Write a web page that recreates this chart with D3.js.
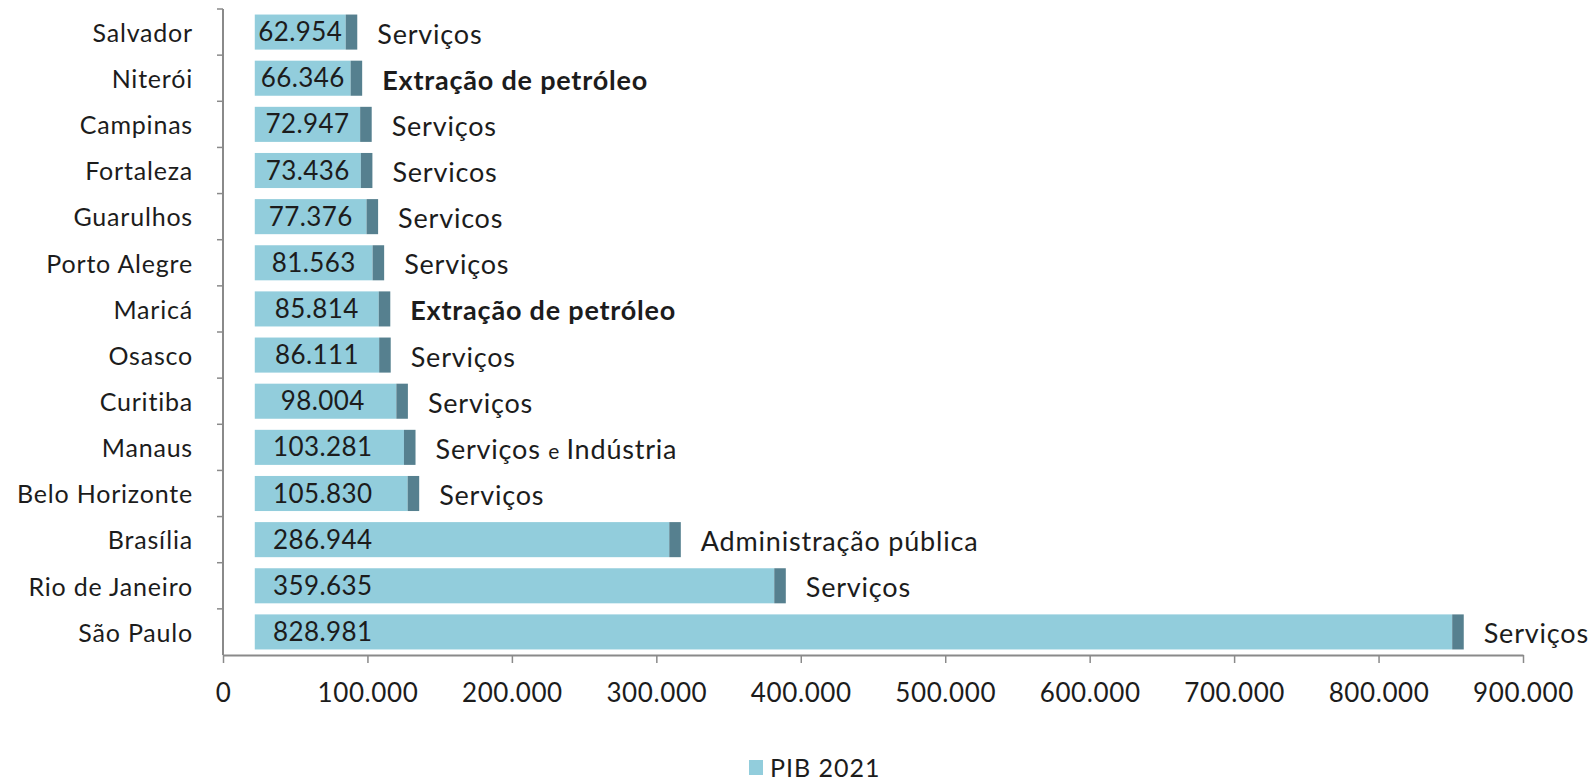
<!DOCTYPE html>
<html>
<head>
<meta charset="utf-8">
<script src="https://cdn.jsdelivr.net/npm/d3@7"></script>
<style>
  html, body { margin: 0; padding: 0; background: #ffffff; }
  svg { display: block; }
</style>
</head>
<body>
<svg id="chart" width="1593" height="783"></svg>
<script>
// ---- data ----
const cities = ["Salvador", "Niterói", "Campinas", "Fortaleza", "Guarulhos", "Porto Alegre", "Maricá",
  "Osasco", "Curitiba", "Manaus", "Belo Horizonte", "Brasília", "Rio de Janeiro", "São Paulo"];
const pib2021 = [62954, 66346, 72947, 73436, 77376, 81563, 85814, 86111, 98004, 103281, 105830, 286944, 359635, 828981];
const sectors = ["Serviços", "Extração de petróleo", "Serviços", "Servicos", "Servicos", "Serviços", "Extração de petróleo",
  "Serviços", "Serviços", "Serviços e Indústria", "Serviços", "Administração pública", "Serviços", "Serviços"];
// invisible base segment and dark end-cap segment of the stacked bars
const baseSeries = [22000, 22000, 22000, 22000, 22000, 22000, 22000, 22000, 22000, 22000, 22000, 22000, 22000, 22000];
const capSeries = [8000, 8000, 8000, 8000, 8000, 8000, 8000, 8000, 8000, 8000, 8000, 8000, 8000, 8000];
const xTicks = [0, 100000, 200000, 300000, 400000, 500000, 600000, 700000, 800000, 900000];
const legendLabel = "PIB 2021";

// ---- setup ----
const svg = d3.select("#chart");
const FONT = "Lato, 'Open Sans', sans-serif";
const lightBlue = "#92cddc";
const darkCap = "#56808f";
const axisGray = "#8a8a8a";
const textCol = "#1c1c1c";

const locale = d3.formatLocale({ decimal: ",", thousands: ".", grouping: [3], currency: ["R$", ""] });
const fmt = locale.format(",d");

const rows = cities.map((c, i) => ({
  city: c, value: pib2021[i], sector: sectors[i], base: baseSeries[i], cap: capSeries[i]
}));

const x = d3.scaleLinear().domain([0, 900000]).range([223, 1523]);
const y = d3.scaleBand().domain(cities).range([9, 655]).paddingInner(0.24).paddingOuter(0.12);

// ---- axes ----
const xAxis = d3.axisBottom(x).tickValues(xTicks).tickFormat(d => fmt(d)).tickSizeInner(8).tickSizeOuter(0).tickPadding(21);
const gx = svg.append("g").attr("transform", "translate(0,655)").call(xAxis);
gx.select(".domain").attr("stroke", axisGray).attr("stroke-width", 2);
gx.selectAll(".tick line").attr("stroke", axisGray).attr("stroke-width", 1.5);
gx.selectAll(".tick text").attr("font-family", FONT).attr("font-size", 26)
  .attr("letter-spacing", 0.6).attr("fill", textCol);

// y axis: line with ticks at band boundaries
const gy = svg.append("g");
gy.append("line").attr("x1", x(0)).attr("x2", x(0)).attr("y1", y.range()[0]).attr("y2", y.range()[1])
  .attr("stroke", axisGray).attr("stroke-width", 2);
const boundaries = cities.map(c => y(c) - y.step() * y.paddingInner() / 2);
gy.selectAll("line.yt").data(boundaries).join("line").attr("class", "yt")
  .attr("x1", x(0) - 6).attr("x2", x(0)).attr("y1", d => d).attr("y2", d => d)
  .attr("stroke", axisGray).attr("stroke-width", 1.5);
gy.selectAll("text.cat").data(rows).join("text").attr("class", "cat")
  .attr("x", x(0) - 30).attr("y", d => y(d.city) + y.bandwidth() / 2 + 1)
  .attr("dy", "0.35em").attr("text-anchor", "end")
  .attr("font-family", FONT).attr("font-size", 25).attr("letter-spacing", 0.8).attr("fill", textCol)
  .text(d => d.city);

// ---- bars ----
const bars = svg.append("g");
bars.selectAll("rect.val").data(rows).join("rect").attr("class", "val")
  .attr("x", d => x(d.base))
  .attr("y", d => y(d.city))
  .attr("width", d => x(d.base + d.value) - x(d.base))
  .attr("height", y.bandwidth())
  .attr("fill", lightBlue);
bars.selectAll("rect.cap").data(rows).join("rect").attr("class", "cap")
  .attr("x", d => x(d.base + d.value))
  .attr("y", d => y(d.city))
  .attr("width", d => x(d.base + d.value + d.cap) - x(d.base + d.value))
  .attr("height", y.bandwidth())
  .attr("fill", darkCap);

// value labels inside bars
bars.selectAll("text.vlab").data(rows).join("text").attr("class", "vlab")
  .attr("x", d => x(d.base) + Math.min((x(d.base + d.value) - x(d.base)) / 2, 68))
  .attr("y", d => y(d.city) + y.bandwidth() / 2)
  .attr("dy", "0.35em").attr("text-anchor", "middle")
  .attr("font-family", FONT).attr("font-size", 26).attr("letter-spacing", 0.4).attr("fill", textCol)
  .text(d => fmt(d.value));

// sector annotations
const ann = bars.selectAll("text.ann").data(rows).join("text").attr("class", "ann")
  .attr("x", d => x(d.base + d.value + d.cap) + 20)
  .attr("y", d => y(d.city) + y.bandwidth() / 2 + 2)
  .attr("dy", "0.35em")
  .attr("font-family", FONT).attr("font-size", 27).attr("letter-spacing", 0.8).attr("fill", textCol)
  .attr("font-weight", d => d.sector.startsWith("Extração") ? "bold" : "normal");
ann.each(function(d) {
  const t = d3.select(this);
  const parts = d.sector.split(" e ");
  if (parts.length === 2 && d.sector.includes("Indústria")) {
    t.append("tspan").text(parts[0] + " ");
    t.append("tspan").attr("font-size", 21).text("e ");
    t.append("tspan").text(parts[1]);
  } else {
    t.text(d.sector);
  }
});

// ---- legend ----
const lg = svg.append("g").attr("transform", "translate(749,760)");
lg.append("rect").attr("x", 0).attr("y", 0).attr("width", 14).attr("height", 15).attr("fill", lightBlue);
lg.append("text").attr("x", 21).attr("y", 8).attr("dy", "0.35em")
  .attr("font-family", FONT).attr("font-size", 25).attr("letter-spacing", 1).attr("fill", textCol).text(legendLabel);
</script>
</body>
</html>
